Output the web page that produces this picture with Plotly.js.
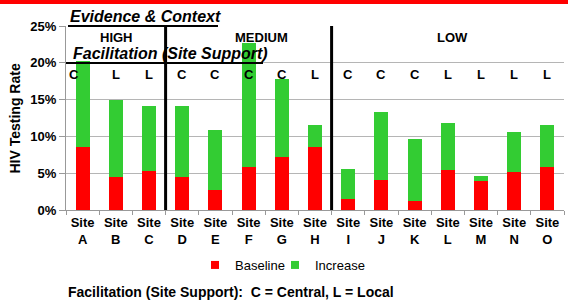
<!DOCTYPE html>
<html>
<head>
<meta charset="utf-8">
<script src="https://cdn.plot.ly/plotly-3.0.1.min.js"></script>
<style>
html,body{margin:0;padding:0;background:#fff;}
#chart{width:568px;height:301px;}
</style>
</head>
<body>
<div id="chart"></div>
<script>
// Data
const sites = ['A','B','C','D','E','F','G','H','I','J','K','L','M','N','O'];
const baseline = [8.6, 4.5, 5.3, 4.5, 2.7, 5.8, 7.2, 8.5, 1.5, 4.1, 1.2, 5.4, 3.9, 5.2, 5.8];
const increase = [11.6, 10.5, 8.8, 9.6, 8.2, 16.9, 10.6, 3.1, 4.1, 9.2, 8.5, 6.4, 0.7, 5.4, 5.7];
const facilitation = ['C','L','L','C','C','C','C','L','C','C','C','L','L','L','L'];
const evidenceLevels = ['HIGH','MEDIUM','LOW'];
const seriesNames = ['Baseline','Increase'];
const seriesColors = ['#ff0000','#33cc33'];
const yTicks = [0, 5, 10, 15, 20, 25];

const FONT = 'Liberation Sans, Arial, Helvetica, sans-serif';
const cats = sites.map(s => 'Site<br>' + s);

const traces = [
  {type:'bar', name: seriesNames[0], x: cats, y: baseline, marker:{color:seriesColors[0]}, width:0.42, showlegend:false},
  {type:'bar', name: seriesNames[1], x: cats, y: increase, marker:{color:seriesColors[1]}, width:0.42, showlegend:false},
  // legend entries with small square swatches
  {type:'scatter', mode:'markers', name: seriesNames[0], x:[null], y:[null],
    marker:{symbol:'square', size:8, color:seriesColors[0]}, legend:'legend'},
  {type:'scatter', mode:'markers', name: seriesNames[1], x:[null], y:[null],
    marker:{symbol:'square', size:8, color:seriesColors[1]}, legend:'legend2'}
];

// pixel helpers (plot area: x 66..564, y 26..210)
const px = p => (p - 66) / 498;
const py = p => (210 - p) / 184;

const annotations = [];
facilitation.forEach((f, i) => {
  annotations.push({x: cats[i], xref:'x', y: py(74), yref:'paper', text:'<b>'+f+'</b>',
    showarrow:false, xanchor:'center', yanchor:'middle', xshift: i===0 ? -9 : 0,
    font:{family:FONT, size:13, color:'#000'}});
});
const groupCenters = [116, 261.5, 452];
evidenceLevels.forEach((g, i) => {
  annotations.push({x: px(groupCenters[i]), xref:'paper', y: py(38), yref:'paper', text:'<b>'+g+'</b>',
    showarrow:false, xanchor:'center', yanchor:'middle', font:{family:FONT, size:13, color:'#000'}});
});
annotations.push({x: px(68), xref:'paper', y: py(17), yref:'paper', text:'<b><i>Evidence &amp; Context</i></b>',
  showarrow:false, xanchor:'left', yanchor:'middle', font:{family:FONT, size:16, color:'#000'}});
annotations.push({x: px(71), xref:'paper', y: py(53.5), yref:'paper', text:'<b><i>Facilitation (Site Support)</i></b>',
  showarrow:false, xanchor:'left', yanchor:'middle', font:{family:FONT, size:16, color:'#000'}});
annotations.push({x: px(14), xref:'paper', y: py(118.5), yref:'paper', text:'<b>HIV Testing Rate</b>', textangle:-90,
  showarrow:false, xanchor:'center', yanchor:'middle', font:{family:FONT, size:14, color:'#000'}});
annotations.push({x: px(66), xref:'paper', y: py(292), yref:'paper', text:'<b>Facilitation (Site Support):  C = Central, L = Local</b>',
  showarrow:false, xanchor:'left', yanchor:'middle', font:{family:FONT, size:14, color:'#000'}});

const shapes = [
  // red band at top
  {type:'rect', xref:'paper', yref:'paper', x0: px(0), x1: px(568), y0: py(4), y1: py(-2), fillcolor:'#ff0000', line:{width:0}, layer:'above'},
  // group separators
  {type:'line', xref:'x', yref:'paper', x0:2.5, x1:2.5, y0:0, y1:1, line:{color:'#000', width:3}, layer:'above'},
  {type:'line', xref:'x', yref:'paper', x0:7.5, x1:7.5, y0:0, y1:1, line:{color:'#000', width:3}, layer:'above'},
  // heading underlines
  {type:'line', xref:'paper', yref:'paper', x0:px(68), x1:px(218), y0:1, y1:1, line:{color:'#000', width:2}, layer:'above'},
  {type:'line', xref:'paper', yref:'paper', x0:0, x1:px(263), y0:py(63), y1:py(63), line:{color:'#000', width:2}, layer:'above'}
];

const legendCommon = {orientation:'h', xanchor:'left', yanchor:'middle', y:py(265),
  font:{family:FONT, size:13, color:'#000'}, bgcolor:'rgba(0,0,0,0)', borderwidth:0};

const layout = {
  width:568, height:301,
  margin:{l:66, r:4, t:26, b:91, pad:0},
  paper_bgcolor:'#fff', plot_bgcolor:'#fff',
  barmode:'stack',
  showlegend:true,
  font:{family:FONT, color:'#000'},
  legend: Object.assign({}, legendCommon, {x: px(195)}),
  legend2: Object.assign({}, legendCommon, {x: px(275)}),
  xaxis:{type:'category', showgrid:false, showline:true, linecolor:'#999', linewidth:1,
    ticks:'outside', tickson:'boundaries', ticklen:4, tickcolor:'#999',
    tickfont:{family:FONT, size:13, weight:'bold', color:'#000'}, fixedrange:true},
  yaxis:{range:[0,25], tickvals:yTicks, ticktext: yTicks.map(v => v + '%'),
    showgrid:true, gridcolor:'#b5b5b5', gridwidth:1, zeroline:false,
    showline:true, linecolor:'#999', linewidth:1, ticks:'outside', ticklen:6, tickcolor:'#999',
    tickfont:{family:FONT, size:13, weight:'bold', color:'#000'}, fixedrange:true},
  annotations: annotations,
  shapes: shapes
};

Plotly.newPlot('chart', traces, layout, {displayModeBar:false, staticPlot:true});
</script>
</body>
</html>
